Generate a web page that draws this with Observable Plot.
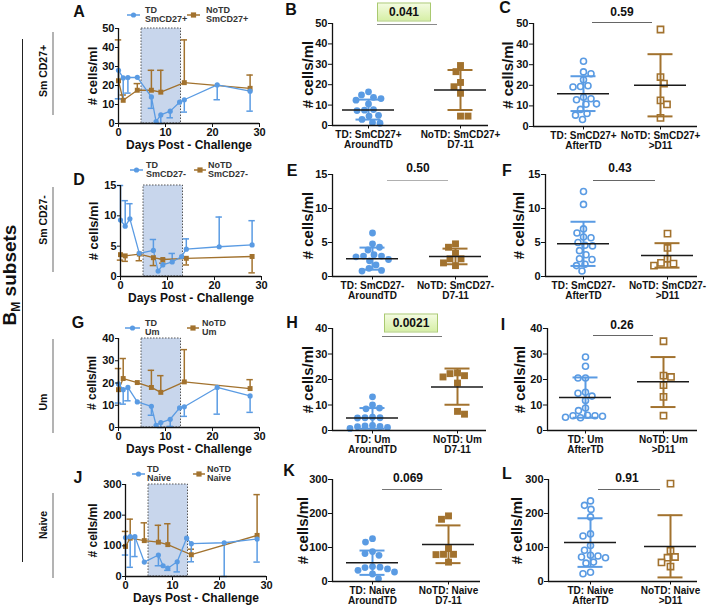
<!DOCTYPE html>
<html><head><meta charset="utf-8">
<script src="https://cdn.jsdelivr.net/npm/d3@7"></script>
<script src="https://cdn.jsdelivr.net/npm/@observablehq/plot@0.6"></script>
<style>
body{margin:0;background:#fff;font-family:"Liberation Sans",Arial,Helvetica,sans-serif;}
#fig{position:relative;width:707px;height:606px;overflow:hidden;background:#fff;}
.t{position:absolute;white-space:nowrap;color:#111;}
.rot{transform:translate(-50%,-50%) rotate(-90deg);}
.ctr{transform:translate(-50%,-50%);}
</style></head><body><div id="fig"></div>
<script>
// ---------------- DATA ----------------
const subsets = ["SmCD27+","SmCD27-","Um","Naive"];
const rowLabels = ["Sm CD27+","Sm CD27-","Um","Naive"];
const daysTD   = [0,1,2,4,7,8,9,11,13,14,21,28];
const daysNoTD = [0,1,4,7,9,14,28];
const shadeDays = [4.9,13.3];
const xTicksDays = [0,10,20,30];

// time courses (mean) and error bar ends
const tcTD_SmCD27p     = [28,24,24.2,24.3,14,1,4.5,6.5,11.2,12.5,20.3,17];
const tcTDerr_SmCD27p  = [13,13,16,null,8,null,0,3,null,6,12.5,6.5];
const tcNoTD_SmCD27p   = [22.5,12.2,17.5,17.5,16.5,21.5,18.5];
const tcNoTDerr_SmCD27p= [44,15,21,28,28,44,25.5];

const tcTD_SmCD27n     = [9.3,8.3,9.5,3.8,4.3,0.9,1.9,2.4,3.3,4.5,4.9,5.2];
const tcTDerr_SmCD27n  = [15,12.5,12,null,6.1,null,2.9,3.8,null,6.2,9.8,9.2];
const tcNoTD_SmCD27n   = [3.6,3.4,3.7,3.1,2.8,3.0,3.3];
const tcNoTDerr_SmCD27n= [2.7,2.5,2.6,1.8,2.2,1.9,0.6];

const tcTD_Um      = [19.6,17,18,11.5,9.5,1,2.2,3.7,8.8,9.3,18,14.2];
const tcTDerr_Um   = [11,10.5,12,null,5.5,null,0,0.5,null,5,6,6.8];
const tcNoTD_Um    = [17,22,20.2,18,15.8,20.5,17.5];
const tcNoTDerr_Um = [26.5,31,null,25.7,23.3,35,21.5];

const tcTD_Naive      = [127,130,130,47,70,35,27,48,125,107,110,122];
const tcTDerr_Naive   = [70,30,65,null,35,null,20,15,null,48,0,47];
const tcNoTD_Naive    = [98,125,117,112,104,71,134];
const tcNoTDerr_Naive = [147,187,175,167,172,89,267];

// scatter panels: individual values and [mean, SD low, SD high]
const B_TD = [16.5,15.0,13.8,13.2,12.4,10.6,7.8,7.5,7.3,5.0,4.6,3.0,1.4,1.1];
const B_NoTD = [29.4,26.4,21.1,19.0,15.8,4.6,4.6];
const B_TDstats = [7.65,2.9,12.7], B_NoTDstats = [17.4,7.6,27.2];
const C_TD = [31.7,26.5,25.6,22.7,19.8,19.4,19.2,14.2,13.5,13.0,11.0,10.8,8.3,6.3,5.5,3.4];
const C_NoTD = [47.1,24.0,20.8,12.7,10.7,4.2];
const C_TDstats = [15.9,7.5,24.4], C_NoTDstats = [20.0,4.9,35.1];

const E_TD = [6.4,4.8,4.3,3.9,3.2,3.0,3.0,2.9,2.5,2.3,1.7,1.2,0.9,0.8];
const E_NoTD = [4.8,4.3,3.4,2.6,2.6,2.0,1.6];
const E_TDstats = [2.6,1.0,4.25], E_NoTDstats = [2.95,1.8,4.1];
const F_TD = [12.5,10.6,7.0,6.4,5.8,5.7,5.0,4.6,4.5,3.8,3.2,2.6,2.5,1.8,1.6,0.8];
const F_NoTD = [6.3,4.2,2.6,2.0,1.9,1.6];
const F_TDstats = [4.8,1.55,8.05], F_NoTDstats = [3.1,1.3,4.9];

const H_TD = [13.2,10.0,8.8,8.5,5.2,5.0,5.0,4.9,2.0,1.8,1.6,1.5,1.2,0.8];
const H_NoTD = [22.6,22.3,21.5,21.0,18.6,7.5,6.4];
const H_TDstats = [4.9,0.7,8.8], H_NoTDstats = [17.1,10.1,24.3];
const I_TD = [28.8,25.2,20.6,20.6,15.0,14.6,13.5,11.8,8.8,7.8,6.0,5.8,5.8,5.6,5.2,5.0];
const I_NoTD = [35,21.5,21,17.8,13.2,5.8];
const I_TDstats = [12.9,5.0,20.8], I_NoTDstats = [19.1,9.2,28.8];

const K_TD = [126,116,88,82,77,44,42,41,37,33,28,22,8];
const K_NoTD = [193,183,97,80,80,79,57];
const K_TDstats = [55,19.5,91], K_NoTDstats = [109,54,165];
const L_TD = [237,224,212,190,140,134,106,92,77,75,72,70,57,54,27,23];
const L_NoTD = [288,90,72,70,56,44];
const L_TDstats = [115,43,186], L_NoTDstats = [103,12,195];

const pValues = ["0.041","0.59","0.50","0.43","0.0021","0.26","0.069","0.91"];
const yTicksRows = [[0,10,20,30,40,50],[0,5,10,15],[0,10,20,30,40],[0,100,200,300]];
const yMaxRows = [50,15,40,300];

// ---------------- STYLE / LAYOUT ----------------
const BLUE = "#5a9be3", BROWN = "#a2722e";
const FONT = '"Liberation Sans", Arial, Helvetica, sans-serif';
const fig = document.getElementById("fig");

function addEl(html){ const d=document.createElement("div"); d.innerHTML=html; while(d.firstChild) fig.appendChild(d.firstChild); }
function addPlot(svg,left,top){ const d=document.createElement("div"); d.style.cssText=`position:absolute;left:${left}px;top:${top}px;`; d.appendChild(svg); fig.appendChild(d); }

function swarm(vals, pxPerVal, minDist){
  const pts = vals.map(v=>({v, y:v*pxPerVal, off:0}));
  const order = pts.slice().sort((a,b)=>b.v-a.v);
  const placed=[];
  order.forEach((p,idx)=>{
    let best=null;
    for(let k=0;k<400 && best===null;k++){
      const s = idx%2 ? -1 : 1;
      const cands = k===0 ? [0] : [s*k*0.5, -s*k*0.5];
      for(const c of cands){
        if(placed.every(q=>(q.off-c)**2+(q.y-p.y)**2 >= minDist*minDist)){ best=c; break; }
      }
    }
    p.off=best; placed.push(p);
  });
  return pts;
}

function linePanel(c){
  const [l,r,t,b]=c.frame;
  const mL=45,mR=10,mT=6,mB=32;
  const W=r-l+mL+mR, H=b-t+mT+mB;
  const ppu=(r-l)/30, cap=3.2/ppu;
  const td=daysTD.map((d,i)=>({day:d,v:c.td[i],err:c.tdErr[i]}));
  const nt=daysNoTD.map((d,i)=>({day:d,v:c.nt[i],err:c.ntErr[i]}));
  const tdE=td.filter(d=>d.err!=null), ntE=nt.filter(d=>d.err!=null);
  const svg=Plot.plot({
    width:W,height:H,marginLeft:mL,marginRight:mR,marginTop:mT,marginBottom:mB,
    x:{domain:[0,30]}, y:{domain:[0,c.ymax]},
    style:{fontFamily:FONT,fontWeight:"bold",fontSize:"11px",color:"#111",background:"transparent",overflow:"visible"},
    marks:[
      Plot.rect([shadeDays],{x1:d=>d[0],x2:d=>d[1],y1:0,y2:c.ymax,fill:"#c8d6ec",stroke:"#555",strokeWidth:1,strokeDasharray:"1.5,1.5"}),
      Plot.ruleX(ntE,{x:"day",y1:"v",y2:"err",stroke:BROWN,strokeWidth:1.5}),
      Plot.ruleY(ntE,{y:"err",x1:d=>d.day-cap,x2:d=>d.day+cap,stroke:BROWN,strokeWidth:1.5}),
      Plot.ruleX(tdE,{x:"day",y1:"v",y2:"err",stroke:BLUE,strokeWidth:1.5}),
      Plot.ruleY(tdE,{y:"err",x1:d=>d.day-cap,x2:d=>d.day+cap,stroke:BLUE,strokeWidth:1.5}),
      Plot.line(nt,{x:"day",y:"v",stroke:BROWN,strokeWidth:1.3}),
      Plot.line(td,{x:"day",y:"v",stroke:BLUE,strokeWidth:1.3}),
      Plot.dot(nt,{x:"day",y:"v",symbol:"square",fill:BROWN,r:2.8}),
      Plot.dot(td,{x:"day",y:"v",fill:BLUE,r:2.6}),
      Plot.ruleX([0],{stroke:"#111",strokeWidth:1.3}),
      Plot.ruleY([0],{stroke:"#111",strokeWidth:1.3}),
      Plot.axisX({ticks:xTicksDays,tickSize:4,tickPadding:1,label:null,fontSize:11,fontWeight:"bold"}),
      Plot.axisY({ticks:c.yticks,tickSize:3,tickPadding:1,label:null,fontSize:11,fontWeight:"bold"}),
      Plot.text(["Days Post - Challenge"],{text:d=>d,frameAnchor:"bottom",textAnchor:"middle",lineAnchor:"middle",dy:22,fontSize:12,fontWeight:"bold"}),
      Plot.text(["# cells/ml"],{text:d=>d,frameAnchor:"left",textAnchor:"middle",lineAnchor:"middle",rotate:-90,dx:c.ylabelX-l,fontSize:c.ylabelSize,fontWeight:"bold"})
    ]});
  addPlot(svg,l-mL,t-mT);
}

function scatterPanel(c){
  const {axis,td,nt,right,t,b}=c.frame;
  const ppu=nt-td, xa=(axis-td)/ppu, xb=(right-td)/ppu;
  const mL=42,mR=8,mT=24,mB=30;
  const W=right-axis+mL+mR, H=b-t+mT+mB;
  const pxPerVal=(b-t)/c.ymax;
  const groups=[
    {x:0,vals:c.tdVals,stats:c.tdStats,col:BLUE,sym:"circle",r:3.4},
    {x:1,vals:c.ntVals,stats:c.ntStats,col:BROWN,sym:"square",r:3.9}
  ];
  const capH=12.5/ppu, meanH=26/ppu;
  const marks=[];
  groups.forEach(g=>{
    const pts=swarm(g.vals,pxPerVal,7.4).map(p=>({x:g.x+p.off/ppu,v:p.v}));
    marks.push(c.open
      ? Plot.dot(pts,{x:"x",y:"v",symbol:g.sym,r:g.r-0.4,fill:"white",stroke:g.col,strokeWidth:1.6})
      : Plot.dot(pts,{x:"x",y:"v",symbol:g.sym,r:g.r,fill:g.col}));
  });
  groups.forEach(g=>{
    const s=[{x:g.x,m:g.stats[0],lo:g.stats[1],hi:g.stats[2]}];
    marks.push(Plot.ruleX(s,{x:"x",y1:"lo",y2:"hi",stroke:g.col,strokeWidth:2}));
    marks.push(Plot.ruleY(s,{y:"lo",x1:d=>d.x-capH,x2:d=>d.x+capH,stroke:g.col,strokeWidth:2}));
    marks.push(Plot.ruleY(s,{y:"hi",x1:d=>d.x-capH,x2:d=>d.x+capH,stroke:g.col,strokeWidth:2}));
    marks.push(Plot.ruleY(s,{y:"m",x1:d=>d.x-meanH,x2:d=>d.x+meanH,stroke:"#1a1a1a",strokeWidth:1.5}));
  });
  const pl=c.p;
  marks.push(Plot.ruleY([(b-pl.y)/pxPerVal],{y:d=>d,x1:(pl.x1-td)/ppu,x2:(pl.x2-td)/ppu,stroke:pl.color,strokeWidth:1.2}));
  marks.push(Plot.ruleX([xa],{x:d=>d,stroke:"#111",strokeWidth:1.3}));
  marks.push(Plot.ruleY([0],{y:d=>d,stroke:"#111",strokeWidth:1.3}));
  marks.push(Plot.axisY({ticks:c.yticks,tickSize:4,tickPadding:1,label:null,fontSize:11,fontWeight:"bold"}));
  marks.push(Plot.axisX({ticks:[0,1],tickFormat:i=>c.cats[i],tickSize:3.5,tickPadding:1,label:null,fontSize:10,fontWeight:"bold",lineHeight:1.08}));
  marks.push(Plot.text(["# cells/ml"],{text:d=>d,frameAnchor:"left",textAnchor:"middle",lineAnchor:"middle",rotate:-90,dx:c.ylabelX-axis,fontSize:15,fontWeight:"bold"}));
  const svg=Plot.plot({
    width:W,height:H,marginLeft:mL,marginRight:mR,marginTop:mT,marginBottom:mB,
    x:{domain:[xa,xb]}, y:{domain:[0,c.ymax]},
    style:{fontFamily:FONT,fontWeight:"bold",fontSize:"11px",color:"#111",background:"transparent",overflow:"visible"},
    marks
  });
  addPlot(svg,axis-mL,t-mT);
  // p-value label
  if(pl.box){
    addEl(`<div class="t ctr" style="left:${pl.cx}px;top:${pl.cy}px;width:52px;height:17px;line-height:17px;text-align:center;font-size:12px;font-weight:bold;background:linear-gradient(#f3fbe0,#d6efa6);border:1px solid #a9c970;">${pl.text}</div>`);
  } else {
    addEl(`<div class="t ctr" style="left:${pl.cx}px;top:${pl.cy}px;font-size:12px;font-weight:bold;">${pl.text}</div>`);
  }
}

function legend(iconX,iconW,yc,color,square,lines,textX){
  const mk = square ? `<rect x="${iconW/2-2.6}" y="1.4" width="5.2" height="5.2" fill="${color}"/>` : `<circle cx="${iconW/2}" cy="4" r="2.6" fill="${color}"/>`;
  addEl(`<svg style="position:absolute;left:${iconX}px;top:${yc-4}px;overflow:visible" width="${iconW}" height="8"><line x1="0" y1="4" x2="${iconW}" y2="4" stroke="${color}" stroke-width="1.5"/>${mk}</svg>`);
  addEl(`<div class="t" style="left:${textX}px;top:${yc-9.5}px;font-size:9px;line-height:9.5px;font-weight:bold;color:#333;">${lines[0]}<br>${lines[1]}</div>`);
}

// ---------------- LEFT LABELS ----------------
addEl(`<div class="t rot" style="left:11px;top:275px;font-size:19px;font-weight:bold;">B<sub style="font-size:12px">M</sub> subsets</div>`);
addEl(`<div style="position:absolute;left:22px;top:39px;width:1.2px;height:523px;background:#222"></div>`);
const rowLabelY=[71,220,402,525], rowLineY=[[32,115],[187,272],[339,433],[493,578]];
rowLabels.forEach((s,i)=>{
  addEl(`<div class="t rot" style="left:43px;top:${rowLabelY[i]}px;font-size:10.5px;font-weight:bold;">${s}</div>`);
  addEl(`<div style="position:absolute;left:52px;top:${rowLineY[i][0]}px;width:1.5px;height:${rowLineY[i][1]-rowLineY[i][0]}px;background:#b3b3b3"></div>`);
});
// panel letters
[["A",79,12],["B",291,10],["C",505,8],["D",79,180],["E",292,171],["F",507,171],["G",78,323],["H",292,323],["I",503,325],["J",78,478],["K",289,471],["L",507,474]]
 .forEach(([s,x,y])=>addEl(`<div class="t ctr" style="left:${x}px;top:${y}px;font-size:16px;font-weight:bold;">${s}</div>`));

// ---------------- LINE PANELS ----------------
const lineCfg=[
  {frame:[118,259,28,123],td:tcTD_SmCD27p,tdErr:tcTDerr_SmCD27p,nt:tcNoTD_SmCD27p,ntErr:tcNoTDerr_SmCD27p,ylabelX:92,ylabelSize:13,leg:[127,13,15,145,187,13,206]},
  {frame:[120,261,185,276],td:tcTD_SmCD27n,tdErr:tcTDerr_SmCD27n,nt:tcNoTD_SmCD27n,ntErr:tcNoTDerr_SmCD27n,ylabelX:93,ylabelSize:13,leg:[130,13,170,146,194,12,208]},
  {frame:[118,259,338,427],td:tcTD_Um,tdErr:tcTDerr_Um,nt:tcNoTD_Um,ntErr:tcNoTDerr_Um,ylabelX:92,ylabelSize:12,leg:[125,15,328,145,187,12,202]},
  {frame:[125,266,484,576],td:tcTD_Naive,tdErr:tcTDerr_Naive,nt:tcNoTD_Naive,ntErr:tcNoTDerr_Naive,ylabelX:93,ylabelSize:12,leg:[132,13,474,147,193,12,207]}
];
lineCfg.forEach((c,i)=>{
  linePanel({...c,ymax:yMaxRows[i],yticks:yTicksRows[i]});
  const [ix,iw,yc,tx,nx,nw,ntx]=c.leg;
  legend(ix,iw,yc,BLUE,false,["TD",subsets[i]],tx);
  legend(nx,nw,yc,BROWN,true,["NoTD",subsets[i]],ntx);
});

// ---------------- SCATTER PANELS ----------------
const sc=[
  {row:0,open:false,frame:{axis:332,td:368,nt:460,right:488,t:23,b:125},tdVals:B_TD,ntVals:B_NoTD,tdStats:B_TDstats,ntStats:B_NoTDstats,suf:["AroundTD","D7-11"],p:{text:pValues[0],box:true,cx:404,cy:12,x1:377,x2:437,y:24,color:"#8a8a8a"},ylabelX:308},
  {row:0,open:true,frame:{axis:533,td:583,nt:660,right:697,t:23,b:126},tdVals:C_TD,ntVals:C_NoTD,tdStats:C_TDstats,ntStats:C_NoTDstats,suf:["AfterTD",">D11"],p:{text:pValues[1],box:false,cx:622,cy:12,x1:592,x2:652,y:22,color:"#666"},ylabelX:508},
  {row:1,open:false,frame:{axis:332,td:372,nt:455,right:488,t:174,b:276},tdVals:E_TD,ntVals:E_NoTD,tdStats:E_TDstats,ntStats:E_NoTDstats,suf:["AroundTD","D7-11"],p:{text:pValues[2],box:false,cx:418,cy:168,x1:387,x2:448,y:180,color:"#b0b0b0"},ylabelX:308},
  {row:1,open:true,frame:{axis:545,td:583,nt:667,right:697,t:174,b:276},tdVals:F_TD,ntVals:F_NoTD,tdStats:F_TDstats,ntStats:F_NoTDstats,suf:["AfterTD",">D11"],p:{text:pValues[3],box:false,cx:620,cy:168,x1:593,x2:655,y:180,color:"#666"},ylabelX:519},
  {row:2,open:false,frame:{axis:332,td:372,nt:457,right:486,t:328,b:430},tdVals:H_TD,ntVals:H_NoTD,tdStats:H_TDstats,ntStats:H_NoTDstats,suf:["AroundTD","D7-11"],p:{text:pValues[4],box:true,cx:411,cy:323,x1:382,x2:442,y:336,color:"#777"},ylabelX:308},
  {row:2,open:true,frame:{axis:547,td:585,nt:663,right:697,t:328,b:430},tdVals:I_TD,ntVals:I_NoTD,tdStats:I_TDstats,ntStats:I_NoTDstats,suf:["AfterTD",">D11"],p:{text:pValues[5],box:false,cx:622,cy:325,x1:593,x2:653,y:335,color:"#666"},ylabelX:520},
  {row:3,open:false,frame:{axis:332,td:372,nt:448,right:480,t:479,b:581},tdVals:K_TD,ntVals:K_NoTD,tdStats:K_TDstats,ntStats:K_NoTDstats,suf:["AroundTD","D7-11"],p:{text:pValues[6],box:false,cx:408,cy:478,x1:382,x2:442,y:489,color:"#777"},ylabelX:303},
  {row:3,open:true,frame:{axis:548,td:590,nt:670,right:697,t:479,b:581},tdVals:L_TD,ntVals:L_NoTD,tdStats:L_TDstats,ntStats:L_NoTDstats,suf:["AfterTD",">D11"],p:{text:pValues[7],box:false,cx:627,cy:478,x1:598,x2:660,y:489,color:"#666"},ylabelX:517}
];
sc.forEach(c=>{
  const s=subsets[c.row];
  scatterPanel({...c,ymax:yMaxRows[c.row],yticks:yTicksRows[c.row],
    cats:[`TD: ${s}\n${c.suf[0]}`,`NoTD: ${s}\n${c.suf[1]}`]});
});
</script></body></html>
